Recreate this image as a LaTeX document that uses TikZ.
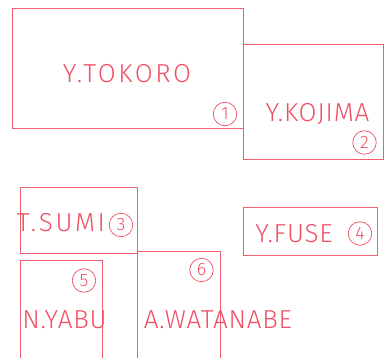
\documentclass[tikz,border=0pt]{standalone}
\usepackage{fontspec}
\setmainfont{Fira Sans Light}[LetterSpace=3]
\newfontfamily\widefont{Fira Sans Light}[LetterSpace=10]
\newfontfamily\digitfont{Fira Sans Light}
\definecolor{boxred}{RGB}{240,95,110}
\definecolor{inkred}{RGB}{238,80,100}
\begin{document}
\begin{tikzpicture}[x=1pt,y=-1pt,
  boxline/.style={draw=boxred,line width=0.9pt},
  pname/.style={text=inkred,inner sep=0pt,font=\fontsize{26}{26}\selectfont},
  pwide/.style={pname,font=\widefont\fontsize{26}{26}\selectfont},
  pnum/.style={circle,draw=inkred,line width=0.7pt,text=inkred,inner sep=0pt,minimum size=23.5pt,font=\digitfont\fontsize{18}{18}\selectfont}]
\useasboundingbox (0,0) rectangle (392,358);
% boxes
\draw[boxline] (12,8) rectangle (243,128);
\draw[boxline] (243,44) rectangle (383,159);
\draw[boxline] (20,187) rectangle (137,253);
\draw[boxline] (243,207) rectangle (377,255);
\draw[boxline] (20,260) rectangle (102,362);
\draw[boxline] (137,251) rectangle (220,362);
% names
\node[pwide] (t1) at (127,74) {Y.TOKORO};
\node[pname] (t2) at (317.5,114) {Y.KOJIMA};
\node[pwide] (t3) at (61,223) {T.SUMI};
\node[pname] (t4) at (294,234) {Y.FUSE};
\node[pname] (t5) at (64.5,320) {N.YABU};
\node[pname] (t6) at (218,320) {A.WATANABE};
% numbers
\node[pnum] (n1) at (225,114) {1};
\node[pnum] (n2) at (364.5,142.5) {2};
\node[pnum] (n3) at (121,225) {3};
\node[pnum] (n4) at (360,233.5) {4};
\node[pnum] (n5) at (84,280.5) {5};
\node[pnum] (n6) at (201.5,270) {6};
\end{tikzpicture}
\end{document}
